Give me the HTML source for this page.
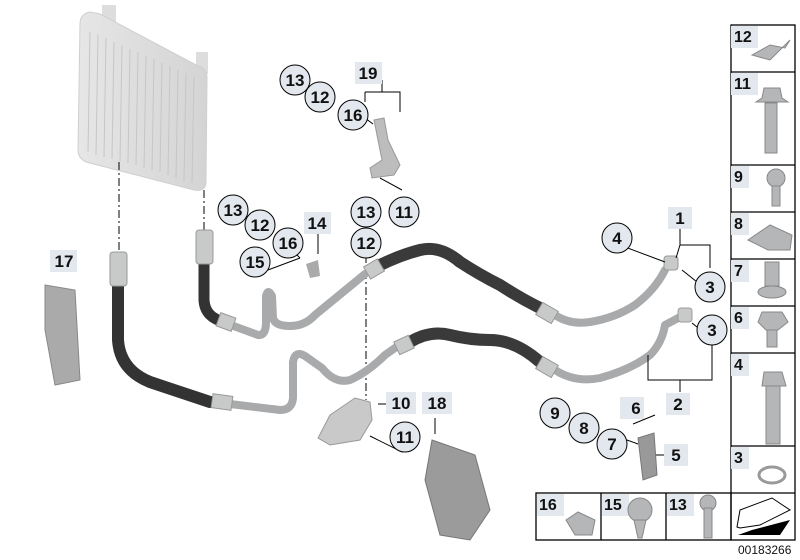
<!DOCTYPE html>
<html><head><meta charset="utf-8"><style>
body{margin:0;background:#fff}
svg{display:block}
text{font-family:"Liberation Sans",Arial,sans-serif;font-weight:bold;fill:#111}
</style></head><body>
<svg width="800" height="560" viewBox="0 0 800 560" xmlns="http://www.w3.org/2000/svg">
<defs>
<linearGradient id="rad" x1="0" y1="0" x2="1" y2="0">
<stop offset="0" stop-color="#e6e6e6"/><stop offset="1" stop-color="#d4d4d4"/></linearGradient>
</defs>
<!-- radiator -->
<g>
<rect x="102" y="5" width="14" height="18" fill="#ddd"/>
<rect x="196" y="52" width="12" height="22" fill="#ddd"/>
<path d="M90 12 Q80 14 80 24 L78 150 Q78 158 86 162 L194 190 Q206 192 206 182 L207 78 Q207 68 198 66 L100 14 Z" fill="url(#rad)" stroke="#cfcfcf"/>
<g stroke="#c6c6c6" stroke-width="1">
<line x1="90" y1="32" x2="88" y2="152"/><line x1="98" y1="35" x2="96" y2="155"/><line x1="106" y1="38" x2="104" y2="157"/>
<line x1="114" y1="42" x2="112" y2="159"/><line x1="122" y1="45" x2="120" y2="161"/><line x1="130" y1="49" x2="128" y2="163"/>
<line x1="138" y1="52" x2="136" y2="165"/><line x1="146" y1="56" x2="144" y2="168"/><line x1="154" y1="59" x2="152" y2="170"/>
<line x1="162" y1="63" x2="160" y2="172"/><line x1="170" y1="66" x2="168" y2="175"/><line x1="178" y1="70" x2="176" y2="178"/>
<line x1="186" y1="73" x2="184" y2="181"/><line x1="194" y1="77" x2="192" y2="183"/>
</g>
</g>
<!-- dash-dot leader lines -->
<g stroke="#000" stroke-width="1" stroke-dasharray="8,3,2,3" fill="none">
<line x1="119" y1="162" x2="119" y2="250"/>
<line x1="204" y1="190" x2="204" y2="230"/>
<line x1="366" y1="255" x2="366" y2="400"/>
</g>
<!-- hoses -->
<g fill="none" stroke-linecap="round" stroke-linejoin="round">
<path d="M204 262 L204 300 Q205 318 225 322" stroke="#333" stroke-width="11"/>
<path d="M228 324 L258 335 Q266 336 266 322 L266 296 Q268 288 272 296 L273 318 Q275 326 290 326 Q305 326 315 315 L365 274" stroke="#a8aaac" stroke-width="8"/>
<path d="M378 266 Q400 255 420 250 Q440 245 460 262 Q480 275 500 285 Q520 298 540 308" stroke="#3a3a3a" stroke-width="12"/>
<path d="M555 315 Q570 325 590 322 Q615 318 635 305 Q655 290 665 270" stroke="#a8aaac" stroke-width="8"/>
<path d="M118 285 L118 340 Q120 370 150 382 L210 402" stroke="#333" stroke-width="12"/>
<path d="M230 404 L280 410 Q292 410 293 398 L293 362 Q295 350 305 356 L322 368 Q335 384 350 380 Q368 372 385 355 L395 348" stroke="#a8aaac" stroke-width="8"/>
<path d="M410 342 Q430 330 450 335 Q470 340 490 340 Q515 340 540 362" stroke="#3a3a3a" stroke-width="12"/>
<path d="M555 370 Q575 383 600 378 Q630 370 650 355 Q662 343 665 325 L682 316" stroke="#a8aaac" stroke-width="8"/>
</g>
<!-- fittings -->
<g fill="#c8caca" stroke="#999">
<rect x="110" y="252" width="17" height="34" rx="3"/>
<rect x="196" y="230" width="17" height="34" rx="3"/>
<rect x="218" y="315" width="16" height="14" transform="rotate(20 226 322)"/>
<rect x="212" y="395" width="20" height="14" transform="rotate(8 222 402)"/>
<rect x="366" y="262" width="16" height="14" transform="rotate(-30 374 269)"/>
<rect x="396" y="338" width="16" height="14" transform="rotate(-25 404 345)"/>
<rect x="538" y="306" width="18" height="14" transform="rotate(30 547 313)"/>
<rect x="538" y="360" width="18" height="14" transform="rotate(30 547 367)"/>
<rect x="664" y="256" width="14" height="14" rx="3"/>
<rect x="678" y="308" width="14" height="14" rx="3"/>
</g>
<!-- brackets -->
<path d="M374 120 L384 118 L388 140 L400 165 L394 175 L372 178 L370 168 L382 160 Z" fill="#bdbdbd" stroke="#999"/>
<path d="M306 264 L318 260 L320 276 L310 278 Z" fill="#aaa"/>
<path d="M330 415 L355 398 L370 402 L372 420 L360 440 L330 445 L318 438 Z" fill="#c9c9c9" stroke="#999"/>
<path d="M45 285 L75 290 L80 380 L55 385 L45 330 Z" fill="#aaa" stroke="#888"/>
<path d="M432 440 L475 455 L490 510 L470 540 L440 535 L425 480 Z" fill="#9b9b9b" stroke="#777"/>
<path d="M638 438 L654 433 L657 475 L643 480 Z" fill="#999" stroke="#777"/>
<!-- leader lines -->
<g stroke="#000" stroke-width="1" fill="none">
<path d="M382 80 L382 92 M365 92 L400 92 L400 112 M365 92 L365 102"/>
<path d="M365 118 L373 124"/>
<path d="M380 178 L402 190"/>
<path d="M318 232 L318 254"/>
<path d="M255 268 L268 270 L300 258 M290 248 L300 258"/>
<path d="M366 244 L366 258"/>
<path d="M680 227 L680 245 L710 245 L710 268 M680 245 L676 258"/>
<path d="M617 244 L665 262"/>
<path d="M682 270 L697 282"/>
<path d="M648 355 L648 380 L712 380 L712 344 M680 380 L680 392"/>
<path d="M692 323 L697 327"/>
<path d="M378 404 L390 404"/>
<path d="M370 436 L402 452 L402 444"/>
<path d="M435 418 L435 434"/>
<path d="M656 455 L670 455"/>
<path d="M627 440 L638 444"/>
<path d="M633 424 L655 415"/>
</g>
<!-- circle labels -->
<g fill="#e3e8ef" stroke="#000" stroke-width="1">
<circle cx="295" cy="80" r="15"/><circle cx="320" cy="97" r="15"/><circle cx="353" cy="115" r="15"/>
<circle cx="233" cy="210" r="15"/><circle cx="260" cy="225" r="15"/><circle cx="288" cy="243" r="15"/><circle cx="255" cy="262" r="15"/>
<circle cx="366" cy="212" r="15"/><circle cx="404" cy="212" r="15"/><circle cx="366" cy="243" r="15"/>
<circle cx="617" cy="238" r="15"/><circle cx="710" cy="287" r="15"/><circle cx="712" cy="330" r="15"/>
<circle cx="405" cy="437" r="15"/>
<circle cx="555" cy="413" r="15"/><circle cx="584" cy="428" r="15"/><circle cx="612" cy="444" r="15"/>
</g>
<g font-size="17" text-anchor="middle">
<text x="295" y="86">13</text><text x="320" y="103">12</text><text x="353" y="121">16</text>
<text x="233" y="216">13</text><text x="260" y="231">12</text><text x="288" y="249">16</text><text x="255" y="268">15</text>
<text x="366" y="218">13</text><text x="404" y="218">11</text><text x="366" y="249">12</text>
<text x="617" y="244">4</text><text x="710" y="293">3</text><text x="712" y="336">3</text>
<text x="405" y="443">11</text>
<text x="555" y="419">9</text><text x="584" y="434">8</text><text x="612" y="450">7</text>
</g>
<!-- square labels -->
<g fill="#e3e8ef">
<rect x="355" y="62" width="27" height="22"/><rect x="304" y="212" width="27" height="22"/>
<rect x="50" y="250" width="27" height="22"/><rect x="668" y="207" width="24" height="22"/>
<rect x="666" y="393" width="24" height="22"/><rect x="620" y="397" width="24" height="22"/>
<rect x="664" y="444" width="24" height="22"/><rect x="386" y="392" width="30" height="22"/>
<rect x="422" y="392" width="30" height="22"/>
</g>
<g font-size="17" text-anchor="middle">
<text x="368" y="79">19</text><text x="317" y="229">14</text><text x="64" y="267">17</text>
<text x="680" y="224">1</text><text x="678" y="410">2</text><text x="636" y="414">6</text>
<text x="676" y="461">5</text><text x="401" y="409">10</text><text x="437" y="409">18</text>
</g>
<!-- right parts table -->
<g fill="none" stroke="#000" stroke-width="1.3">
<rect x="731" y="25" width="64" height="515"/>
<line x1="731" y1="72" x2="795" y2="72"/><line x1="731" y1="165" x2="795" y2="165"/>
<line x1="731" y1="212" x2="795" y2="212"/><line x1="731" y1="259" x2="795" y2="259"/>
<line x1="731" y1="306" x2="795" y2="306"/><line x1="731" y1="353" x2="795" y2="353"/>
<line x1="731" y1="446" x2="795" y2="446"/><line x1="731" y1="493" x2="795" y2="493"/>
<rect x="536" y="493" width="195" height="47"/>
<line x1="601" y1="493" x2="601" y2="540"/><line x1="666" y1="493" x2="666" y2="540"/>
</g>
<g fill="#e3e8ef">
<rect x="731" y="26" width="27" height="22"/><rect x="731" y="73" width="27" height="22"/>
<rect x="731" y="166" width="18" height="22"/><rect x="731" y="213" width="18" height="22"/>
<rect x="731" y="260" width="18" height="22"/><rect x="731" y="307" width="18" height="22"/>
<rect x="731" y="354" width="18" height="22"/><rect x="731" y="447" width="18" height="22"/>
<rect x="537" y="494" width="27" height="22"/><rect x="602" y="494" width="27" height="22"/>
<rect x="667" y="494" width="27" height="22"/>
</g>
<g font-size="16">
<text x="734" y="42">12</text><text x="734" y="89">11</text><text x="734" y="182">9</text>
<text x="734" y="229">8</text><text x="734" y="276">7</text><text x="734" y="323">6</text>
<text x="734" y="370">4</text><text x="734" y="463">3</text>
<text x="539" y="510">16</text><text x="604" y="510">15</text><text x="669" y="510">13</text>
</g>
<!-- small part icons -->
<g fill="#b4b6b8" stroke="#888">
<path d="M752 55 L770 45 L785 48 L790 40 L770 60 Z"/>
<path d="M764 88 L780 88 L782 98 L788 102 L756 102 L762 98 Z"/><rect x="765" y="103" width="12" height="50"/>
<circle cx="776" cy="178" r="9"/><rect x="772" y="186" width="8" height="20"/>
<path d="M748 240 L770 225 L792 235 L790 250 L768 250 Z"/>
<rect x="765" y="262" width="14" height="24"/><ellipse cx="772" cy="292" rx="14" ry="6"/>
<path d="M762 312 L782 312 L788 322 L778 330 L766 330 L758 322 Z"/><rect x="767" y="330" width="10" height="17"/>
<path d="M764 372 L782 372 L786 386 L762 386 Z"/><rect x="766" y="386" width="14" height="58"/>
<ellipse cx="772" cy="475" rx="13" ry="8" fill="none" stroke="#999" stroke-width="3"/>
<path d="M566 520 L578 512 L595 520 L592 535 L575 535 Z"/>
<circle cx="640" cy="510" r="12"/><path d="M634 520 L646 520 L642 538 L638 538 Z"/>
<circle cx="708" cy="503" r="8"/><rect x="704" y="508" width="8" height="30"/>
</g>
<path d="M737 527 L740 510 L772 498 L790 510 L760 525 L740 528 Z" fill="none" stroke="#000"/>
<path d="M738 535 L780 535 L790 520 L752 530" fill="#000"/>
<text x="738" y="554" font-size="12" style="font-weight:normal">00183266</text>
</svg>
</body></html>
